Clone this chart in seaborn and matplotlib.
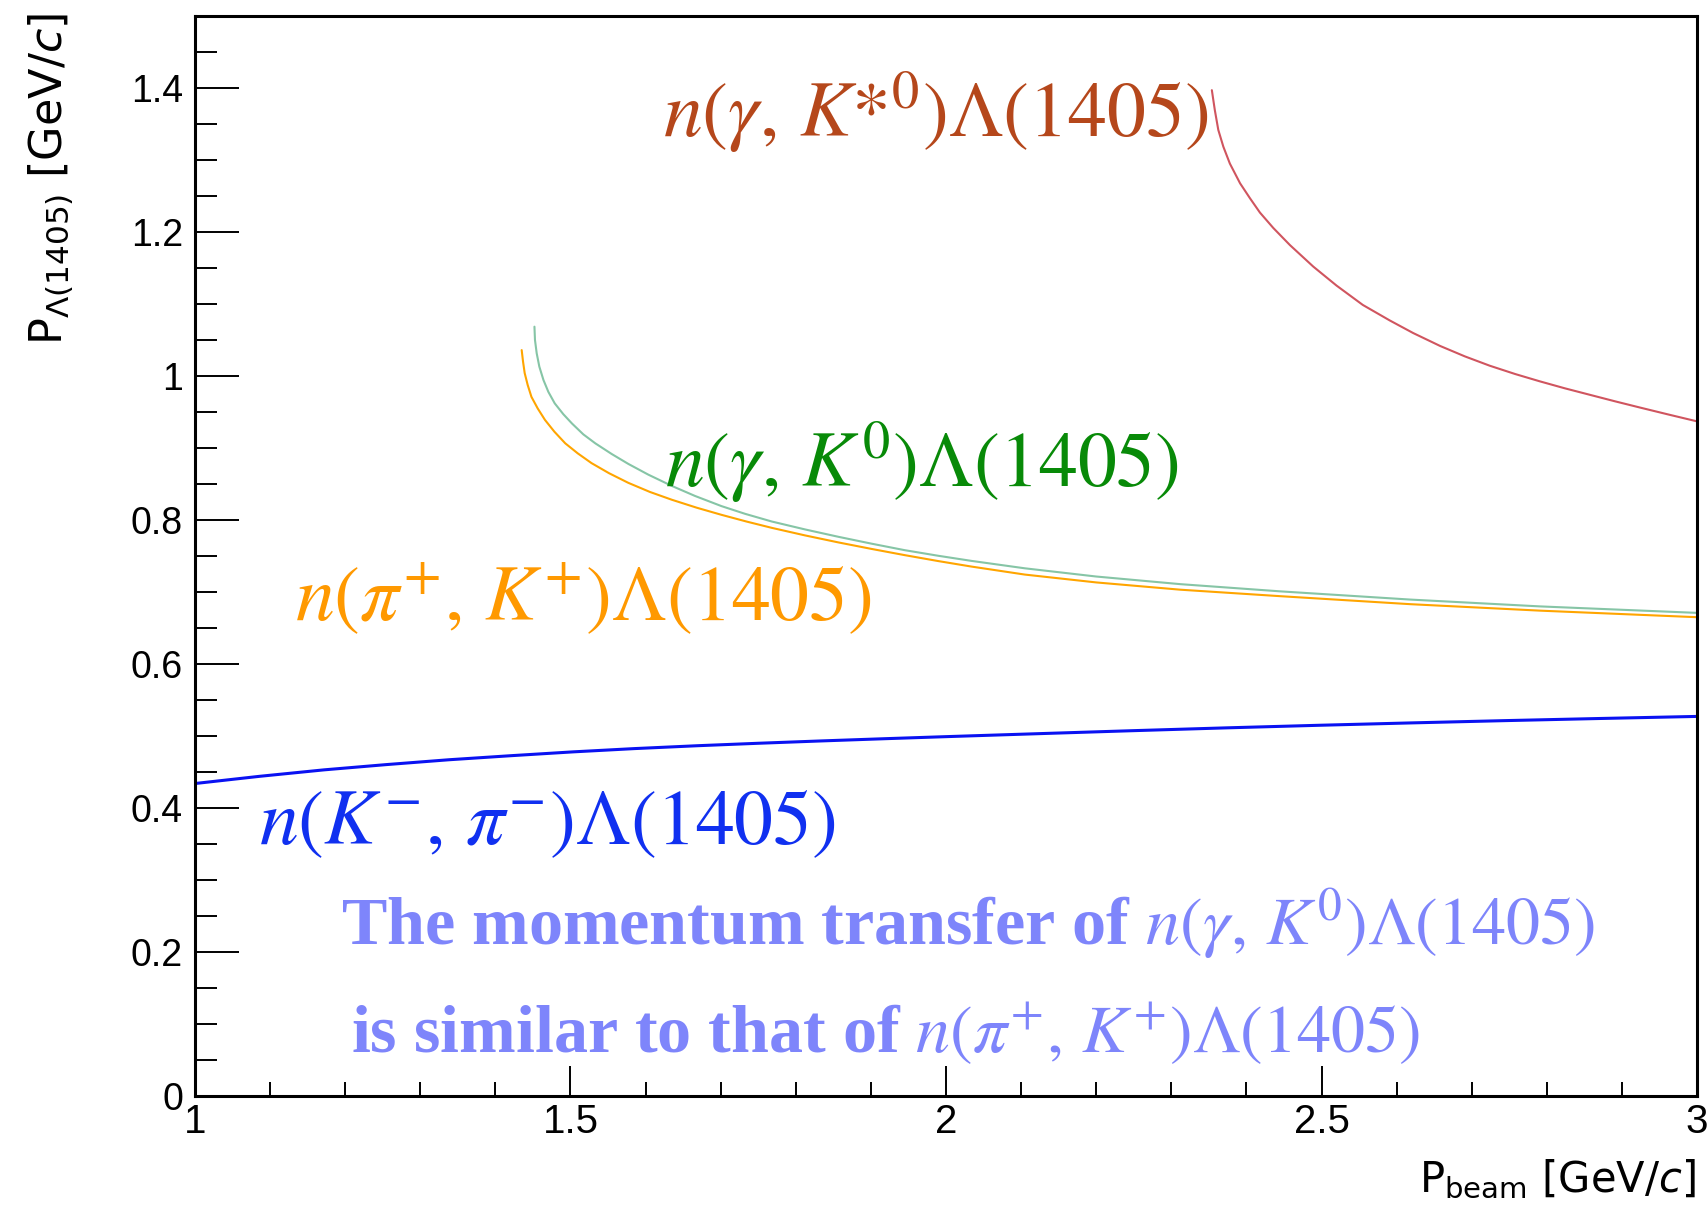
import matplotlib
matplotlib.use("Agg")
import matplotlib.pyplot as plt
from matplotlib.ticker import MultipleLocator
import pandas as pd
import seaborn as sns

# Beam momentum [GeV/c] vs. Lambda(1405) momentum [GeV/c] for each reaction
kminus_beam = [1.0, 1.086, 1.172, 1.255, 1.338, 1.42, 1.504, 1.585, 1.669, 1.75, 1.835,
               1.92, 2.0, 2.125, 2.249, 2.373, 2.497, 2.62, 2.746, 2.87, 3.0]
kminus_plam = [0.434, 0.444, 0.453, 0.4603, 0.467, 0.4726, 0.478, 0.4825, 0.4865, 0.4899, 0.4932,
               0.4963, 0.4991, 0.5033, 0.5074, 0.5113, 0.5149, 0.5182, 0.5214, 0.5243, 0.5272]

piplus_beam = [1.435, 1.4368, 1.439, 1.443, 1.448, 1.4563, 1.466, 1.4785, 1.493, 1.5096,
               1.528, 1.5513, 1.577, 1.6059, 1.635, 1.668, 1.701, 1.7346, 1.768, 1.8123,
               1.857, 1.901, 1.945, 1.99, 2.034, 2.105, 2.2, 2.312, 2.445, 2.618,
               2.791, 3.0]
piplus_plam = [1.036, 1.020, 1.004, 0.9875, 0.971, 0.955, 0.939, 0.9227, 0.9065, 0.8926,
               0.879, 0.865, 0.8516, 0.8389, 0.8281, 0.8171, 0.8072, 0.7978, 0.7891, 0.7786,
               0.7688, 0.7598, 0.7512, 0.7429, 0.7353, 0.7242, 0.7133, 0.7032, 0.6942, 0.6831,
               0.6741, 0.665]

gk0_beam = [1.452, 1.4527, 1.455, 1.4585, 1.464, 1.4705, 1.479, 1.4904, 1.502, 1.517,
            1.533, 1.5548, 1.577, 1.6036, 1.635, 1.6658, 1.701, 1.7324, 1.768, 1.8123,
            1.857, 1.901, 1.945, 1.9898, 2.034, 2.105, 2.2, 2.312, 2.445, 2.618,
            2.791, 3.0]
gk0_plam = [1.0685, 1.050, 1.0315, 1.013, 0.9944, 0.978, 0.962, 0.947, 0.934, 0.919,
            0.9065, 0.8917, 0.8779, 0.863, 0.8473, 0.8334, 0.8193, 0.8086, 0.7979, 0.7869,
            0.7766, 0.7671, 0.7581, 0.7503, 0.7432, 0.7329, 0.7215, 0.7109, 0.7009, 0.6895,
            0.680, 0.671]

gkstar_beam = [2.354, 2.358, 2.3626, 2.3693, 2.378, 2.3916, 2.4048, 2.418, 2.4358, 2.458,
               2.489, 2.52, 2.555, 2.591, 2.622, 2.658, 2.691, 2.724, 2.758, 2.791,
               2.824, 2.858, 2.891, 2.924, 2.962, 3.0]
gkstar_plam = [1.397, 1.369, 1.3417, 1.3185, 1.295, 1.2676, 1.2468, 1.227, 1.2056, 1.1818,
               1.152, 1.1256, 1.0987, 1.0771, 1.0597, 1.0417, 1.0272, 1.0143, 1.0027, 0.9925,
               0.9829, 0.9737, 0.9648, 0.9562, 0.9465, 0.937]

xtick_vals = [1.0, 1.5, 2.0, 2.5, 3.0]
xtick_labels = ["1", "1.5", "2", "2.5", "3"]
ytick_vals = [0.0, 0.2, 0.4, 0.6, 0.8, 1.0, 1.2, 1.4]
ytick_labels = ["0", "0.2", "0.4", "0.6", "0.8", "1", "1.2", "1.4"]

sns.set_theme(style="ticks")
plt.rcParams.update({
    "font.family": ["Liberation Sans", "DejaVu Sans"],
    "mathtext.fontset": "custom",
    "mathtext.rm": "Liberation Sans",
    "mathtext.it": "Liberation Sans:italic",
    "mathtext.bf": "Liberation Sans:bold",
    "axes.linewidth": 2.2,
    "axes.edgecolor": "black",
})

fig = plt.figure(figsize=(17.08, 12.10), dpi=100)
fig.patch.set_facecolor("white")
ax = fig.add_axes([195 / 1708, 1 - 1096 / 1210, (1697 - 195) / 1708, (1096 - 16) / 1210])
ax.set_facecolor("white")

curves = [
    (kminus_beam, kminus_plam, "#0A12F2", 2.2),
    (piplus_beam, piplus_plam, "#FFA500", 1.5),
    (gk0_beam, gk0_plam, "#86C5A6", 1.5),
    (gkstar_beam, gkstar_plam, "#D0555F", 1.5),
]
for bx, by, col, lw in curves:
    df = pd.DataFrame({"p_beam": bx, "p_lambda": by})
    sns.lineplot(data=df, x="p_beam", y="p_lambda", ax=ax, color=col,
                 linewidth=lw, estimator=None, sort=False)

ax.set_xlim(1, 3)
ax.set_ylim(0, 1.5)
ax.set_xticks(xtick_vals, xtick_labels)
ax.set_yticks(ytick_vals, ytick_labels)
ax.xaxis.set_minor_locator(MultipleLocator(0.1))
ax.yaxis.set_minor_locator(MultipleLocator(0.05))
ax.tick_params(axis="x", which="major", direction="in", length=21.6, width=1.4,
               labelsize=29, pad=5, color="black", labelcolor="black")
ax.tick_params(axis="x", which="minor", direction="in", length=10, width=1.4, color="black")
ax.tick_params(axis="y", which="major", direction="in", length=31.7, width=1.4,
               labelsize=27, pad=8.6, color="black", labelcolor="black")
ax.tick_params(axis="y", which="minor", direction="in", length=15.6, width=1.4, color="black")
ax.set_xlabel("")
ax.set_ylabel("")
for sp in ax.spines.values():
    sp.set_visible(True)
    sp.set_color("black")
    sp.set_linewidth(2.2)

title_kw = dict(family=["DejaVu Sans"], math_fontfamily="dejavusans", color="black")
fig.text(1696 / 1708, 1 - 1192 / 1210, r"P$_{\mathrm{beam}}$ [GeV/$c$]",
         ha="right", va="baseline", fontsize=30, **title_kw)
fig.text(27 / 1708, 1 - 13 / 1210, r"P$_{\Lambda(1405)}$ [GeV/$c$]",
         ha="left", va="top", rotation=90, fontsize=32, **title_kw)

serif = ["Liberation Serif", "DejaVu Serif"]
label_kw = dict(family=serif, math_fontfamily="stix", ha="left", va="baseline", fontsize=56)
ax.text(1.623, 1.332, r"$n(\gamma,\,K{*}^{0})\Lambda(1405)$", color="#B5471B", **label_kw)
ax.text(1.626, 0.846, r"$n(\gamma,\,K^{0})\Lambda(1405)$", color="#088A08", **label_kw)
ax.text(1.133, 0.661, r"$n(\pi^{+},\,K^{+})\Lambda(1405)$", color="#FF9900", **label_kw)
ax.text(1.085, 0.350, r"$n(K^{-},\,\pi^{-})\Lambda(1405)$", color="#1030F0", **label_kw)

note_kw = dict(family=serif, math_fontfamily="stix", fontweight="bold", ha="left",
               va="baseline", fontsize=49, color="#7E85FB")
ax.text(1.194, 0.210, r"The momentum transfer of $n(\gamma,\,K^{0})\Lambda(1405)$", **note_kw)
ax.text(1.208, 0.061, r"is similar to that of $n(\pi^{+},\,K^{+})\Lambda(1405)$", **note_kw)

fig.savefig("out.png", dpi=100, facecolor="white")
